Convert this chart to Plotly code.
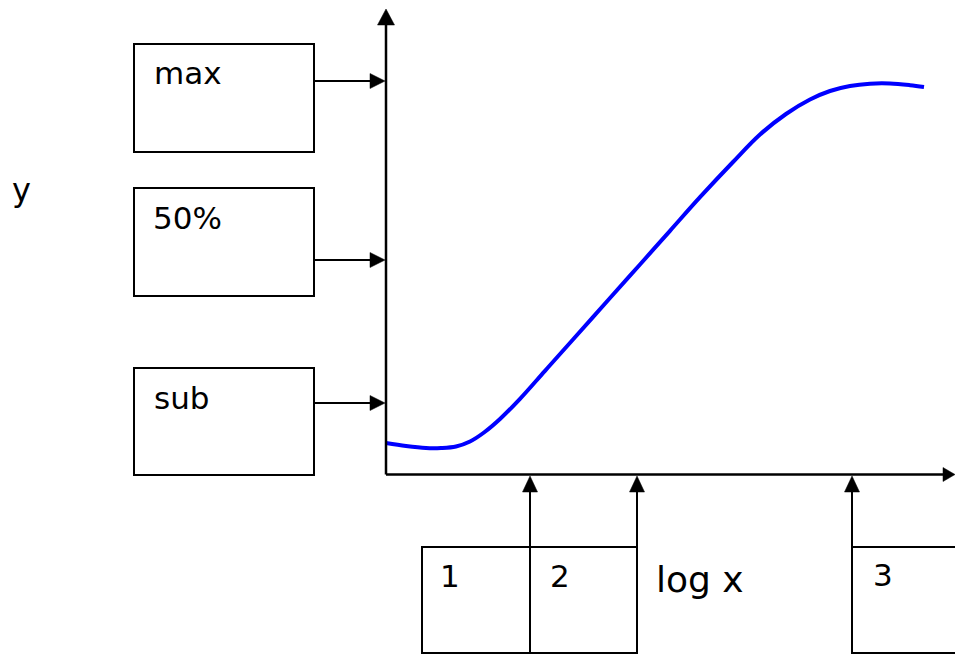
import plotly.graph_objects as go

# ---- data (diagram coordinates: origin at the axes corner, pixel-like units) ----
curve_x = [0, 20, 40, 55, 70, 84, 98, 114, 134, 159, 187, 224, 254, 284, 314, 347, 374, 400, 424, 444, 464, 484, 504, 524, 538]
curve_y = [31.5, 28.5, 26.5, 26.5, 28, 33, 42, 55.5, 75.7, 103.7, 135, 176.5, 210, 243.7, 277.3, 312.5, 340, 360.5, 375, 383.5, 388.5, 390.8, 391, 389.3, 387.5]

y_labels = ["max", "50%", "sub"]
x_labels = ["1", "2", "3"]
axis_labels = ["y", "log x"]

OX, OY = 386, 474.5  # pixel position of the origin


def X(px):
    return px - OX


def Y(py):
    return OY - py


fig = go.Figure()
fig.add_trace(go.Scatter(x=curve_x, y=curve_y, mode="lines",
                         line=dict(color="#0000ff", width=4, shape="spline", smoothing=1),
                         hoverinfo="skip", showlegend=False))

shapes = []
BLK = "black"


def line(x0, y0, x1, y1, w=2):
    shapes.append(dict(type="line", x0=X(x0), y0=Y(y0), x1=X(x1), y1=Y(y1),
                       line=dict(color=BLK, width=w)))


def rect(x0, y0, x1, y1):
    shapes.append(dict(type="rect", x0=X(x0), y0=Y(y0), x1=X(x1), y1=Y(y1),
                       line=dict(color=BLK, width=2), fillcolor="rgba(0,0,0,0)"))


def tri(pts):
    p = "M " + " L ".join(f"{X(a)},{Y(b)}" for a, b in pts) + " Z"
    shapes.append(dict(type="path", path=p, fillcolor=BLK, line=dict(color=BLK, width=0.5)))


# axes
line(386, 474.5, 386, 24, 2.5)
tri([(386, 9), (377.5, 25), (394.5, 25)])
line(386, 474.5, 946, 474.5, 2.5)
tri([(955, 474.5), (943, 467.5), (943, 481.5)])

# left boxes + arrows
for (top, bot, ay) in [(44, 152, 81), (188, 296, 260), (368, 475, 403)]:
    rect(134, top, 314, bot)
    line(314, ay, 372, ay)
    tri([(385, ay), (370, ay - 7.5), (370, ay + 7.5)])

# bottom boxes
rect(422, 547, 637, 653)
line(530, 547, 530, 653)
shapes.append(dict(type="path",
                   path=f"M {X(852)},{Y(547)} L {X(960)},{Y(547)} M {X(852)},{Y(547)} L {X(852)},{Y(653)} L {X(960)},{Y(653)}",
                   line=dict(color=BLK, width=2)))
for ax in [530, 637, 852]:
    line(ax, 547, ax, 488)
    tri([(ax, 476), (ax - 7.5, 492), (ax + 7.5, 492)])

fig.update_layout(shapes=shapes)

F = "DejaVu Sans, Verdana, sans-serif"
ann = []
for lab, (px, py) in zip(y_labels, [(152, 73), (151, 218), (152, 398)]):
    ann.append(dict(x=X(px), y=Y(py), text=lab, showarrow=False, xanchor="left", yanchor="middle",
                    font=dict(family=F, size=31, color=BLK)))
for lab, (px, py) in zip(x_labels, [(438, 576), (548, 576), (871, 575)]):
    ann.append(dict(x=X(px), y=Y(py), text=lab, showarrow=False, xanchor="left", yanchor="middle",
                    font=dict(family=F, size=31, color=BLK)))
ann.append(dict(x=X(10), y=Y(190), text=axis_labels[0], showarrow=False, xanchor="left", yanchor="middle",
                font=dict(family=F, size=32, color=BLK)))
ann.append(dict(x=X(654), y=Y(579), text=axis_labels[1], showarrow=False, xanchor="left", yanchor="middle",
                font=dict(family=F, size=36, color=BLK)))
fig.update_layout(annotations=ann)

fig.update_layout(width=955, height=655, margin=dict(l=0, r=0, t=0, b=0),
                  paper_bgcolor="white", plot_bgcolor="white",
                  xaxis=dict(range=[X(0), X(955)], visible=False, fixedrange=True),
                  yaxis=dict(range=[Y(655), Y(0)], visible=False, fixedrange=True))

fig.write_html("out.html", config={"displayModeBar": False},
               post_script="document.body.style.margin='0';document.body.style.overflow='hidden';")
